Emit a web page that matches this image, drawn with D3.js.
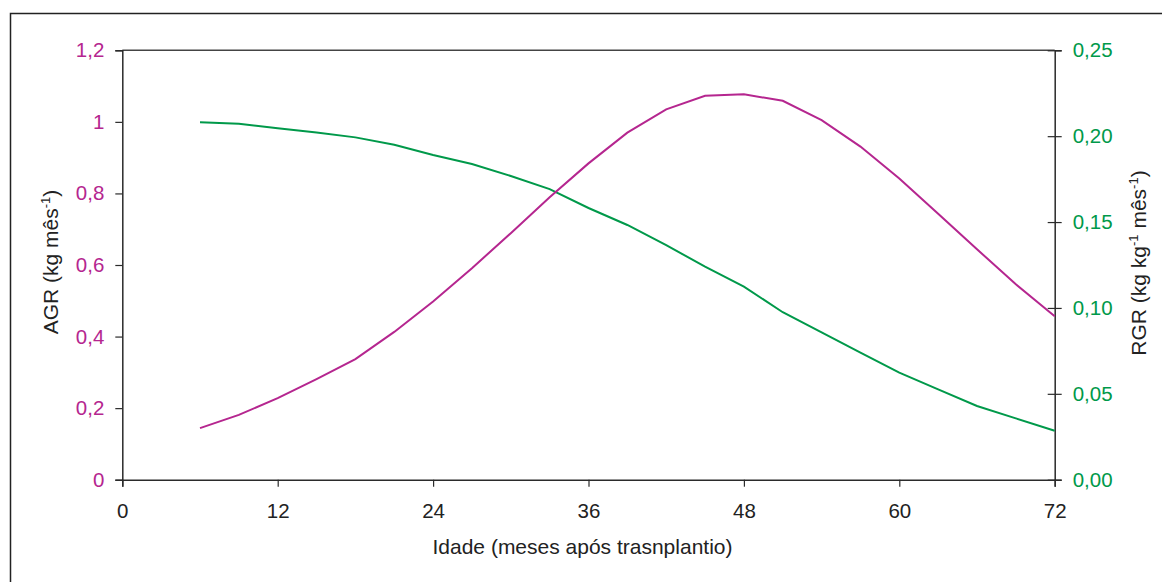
<!DOCTYPE html>
<html>
<head>
<meta charset="utf-8">
<script src="https://cdn.jsdelivr.net/npm/d3@7"></script>
<style>
  html, body { margin: 0; padding: 0; background: #fff; }
  svg { display: block; }
  text { font-family: "Liberation Sans", Arial, sans-serif; }
</style>
</head>
<body>
<svg id="chart" width="1162" height="582"></svg>
<script>
const months = [6, 9, 12, 15, 18, 21, 24, 27, 30, 33, 36, 39, 42, 45, 48, 51, 54, 57, 60, 63, 66, 69, 72];
const agrValues = [0.144, 0.181, 0.228, 0.281, 0.337, 0.413, 0.498, 0.591, 0.689, 0.789, 0.884, 0.970, 1.035, 1.073, 1.077, 1.059, 1.005, 0.931, 0.842, 0.743, 0.644, 0.546, 0.457];
const rgrValues = [0.2081, 0.2073, 0.2046, 0.2022, 0.1993, 0.1950, 0.1890, 0.1838, 0.1768, 0.1692, 0.1582, 0.1483, 0.1366, 0.1240, 0.1124, 0.0975, 0.0858, 0.0740, 0.0623, 0.0526, 0.0429, 0.0357, 0.0285];
const xTicks = [0, 12, 24, 36, 48, 60, 72];
const agrTicks = [0, 0.2, 0.4, 0.6, 0.8, 1.0, 1.2];
const rgrTicks = [0, 0.05, 0.10, 0.15, 0.20, 0.25];

const magenta = "#b5268f";
const green = "#00994a";
const axisColor = "#2b2b2b";
const tickFont = 20.5;
const titleFont = 21;

const svg = d3.select("#chart");
const L = 122.3, R = 1054.7, T = 50.3, B = 479.7;

const x = d3.scaleLinear().domain([0, 72]).range([L, R]);
const yL = d3.scaleLinear().domain([0, 1.2]).range([B, T]);
const yR = d3.scaleLinear().domain([0, 0.25]).range([B, T]);

// outer frame
svg.append("path")
  .attr("d", `M10.5,600 L10.5,13.5 L1170,13.5`)
  .attr("fill", "none").attr("stroke", "#222").attr("stroke-width", 1.5);

// plot top border
svg.append("line").attr("x1", L).attr("x2", R).attr("y1", T).attr("y2", T)
  .attr("stroke", "#444").attr("stroke-width", 1.5);

const fmtL = d => d === 0 ? "0" : (d === 1 ? "1" : d3.format(".1f")(d).replace(".", ","));
const fmtR = d => d3.format(".2f")(d).replace(".", ",");

// left axis
const gl = svg.append("g").attr("transform", `translate(${L},0)`)
  .call(d3.axisLeft(yL).tickValues(agrTicks).tickFormat(fmtL).tickSizeOuter(0).tickSize(7).tickPadding(11));
gl.select(".domain").attr("stroke", axisColor).attr("stroke-width", 1.5);
gl.selectAll(".tick line").attr("stroke", axisColor).attr("stroke-width", 1.2);
gl.selectAll(".tick text").attr("fill", magenta).attr("font-size", tickFont)
  .attr("font-family", "Liberation Sans, Arial, sans-serif");

// right axis (ticks crossing)
const gr = svg.append("g").attr("transform", `translate(${R},0)`)
  .call(d3.axisRight(yR).tickValues(rgrTicks).tickFormat(fmtR).tickSizeOuter(0).tickSize(7).tickPadding(11));
gr.select(".domain").attr("stroke", axisColor).attr("stroke-width", 1.5);
gr.selectAll(".tick line").attr("x1", -7).attr("x2", 7).attr("stroke", axisColor).attr("stroke-width", 1.2);
gr.selectAll(".tick text").attr("fill", green).attr("font-size", tickFont)
  .attr("font-family", "Liberation Sans, Arial, sans-serif");

// bottom axis
const gb = svg.append("g").attr("transform", `translate(0,${B})`)
  .call(d3.axisBottom(x).tickValues(xTicks).tickFormat(d3.format("d")).tickSizeOuter(0).tickSize(7).tickPadding(17));
gb.select(".domain").attr("stroke", axisColor).attr("stroke-width", 1.5);
gb.selectAll(".tick line").attr("stroke", axisColor).attr("stroke-width", 1.2);
gb.selectAll(".tick text").attr("fill", "#222").attr("font-size", tickFont)
  .attr("font-family", "Liberation Sans, Arial, sans-serif");

// lines
const agrLine = d3.line().x((d, i) => x(months[i])).y(d => yL(d));
const rgrLine = d3.line().x((d, i) => x(months[i])).y(d => yR(d));
svg.append("path").datum(rgrValues).attr("d", rgrLine)
  .attr("fill", "none").attr("stroke", green).attr("stroke-width", 2);
svg.append("path").datum(agrValues).attr("d", agrLine)
  .attr("fill", "none").attr("stroke", magenta).attr("stroke-width", 2);

// axis titles
svg.append("text").attr("x", 582.5).attr("y", 553.5)
  .attr("text-anchor", "middle").attr("font-size", titleFont).attr("fill", "#222")
  .text("Idade (meses após trasnplantio)");

const tl = svg.append("text").attr("transform", "translate(58,262) rotate(-90)")
  .attr("text-anchor", "middle").attr("font-size", titleFont).attr("fill", "#222");
tl.append("tspan").text("AGR (kg mês");
tl.append("tspan").attr("dy", -8).attr("font-size", 13).text("-1");
tl.append("tspan").attr("dy", 8).text(")");

const tr = svg.append("text").attr("transform", "translate(1146,263) rotate(-90)")
  .attr("text-anchor", "middle").attr("font-size", titleFont).attr("fill", "#222");
tr.append("tspan").text("RGR (kg kg");
tr.append("tspan").attr("dy", -8).attr("font-size", 13).text("-1");
tr.append("tspan").attr("dy", 8).text(" mês");
tr.append("tspan").attr("dy", -8).attr("font-size", 13).text("-1");
tr.append("tspan").attr("dy", 8).text(")");
</script>
</body>
</html>
